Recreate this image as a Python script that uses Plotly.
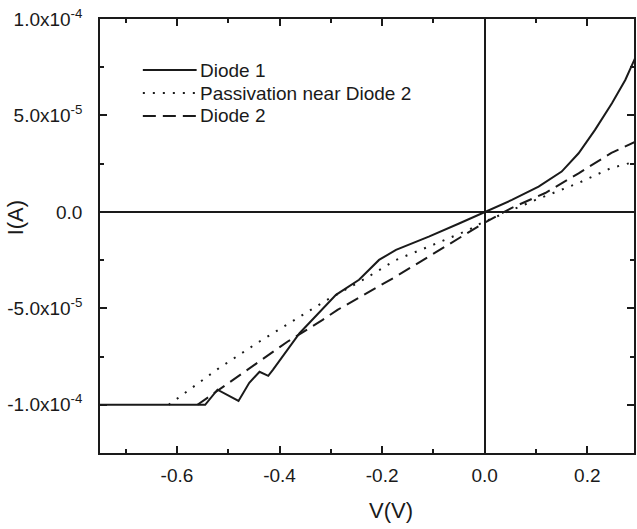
import plotly.graph_objects as go

# ---- data (V in volts, I in units of 1e-5 A) ----
v_diode1 = [-0.75, -0.545, -0.521, -0.48, -0.459, -0.439, -0.422, -0.413, -0.361, -0.323,
            -0.29, -0.245, -0.206, -0.173, -0.109, -0.05, 0.0, 0.053, 0.105, 0.15,
            0.183, 0.215, 0.248, 0.274, 0.293]
i_diode1 = [-10.0, -10.0, -9.22, -9.8, -8.86, -8.29, -8.5, -8.19, -6.29, -5.2,
            -4.3, -3.52, -2.49, -1.97, -1.28, -0.6, 0.0, 0.62, 1.31, 2.09,
            3.04, 4.25, 5.63, 6.84, 7.96]

v_passiv = [-0.616, -0.517, -0.439, -0.355, -0.313, -0.232, -0.173, -0.109, -0.031, -0.006,
            0.099, 0.183, 0.247, 0.293]
i_passiv = [-10.0, -8.08, -6.72, -5.34, -4.65, -3.44, -2.49, -1.8, -0.93, -0.57,
            0.62, 1.5, 2.28, 2.6]

v_diode2 = [-0.56, -0.452, -0.384, -0.316, -0.287, -0.173, -0.109, -0.045, 0.0, 0.052,
            0.118, 0.183, 0.247, 0.293]
i_diode2 = [-10.0, -8.01, -6.72, -5.6, -5.08, -3.35, -2.3, -1.28, -0.55, 0.2,
            0.98, 2.0, 3.06, 3.63]

scale = 1e-5

series_names = ["Diode 1", "Passivation near Diode 2", "Diode 2"]

x_major = [-0.6, -0.4, -0.2, 0.0, 0.2]
x_major_text = ["-0.6", "-0.4", "-0.2", "0.0", "0.2"]
x_minor = [-0.7, -0.5, -0.3, -0.1, 0.1]

y_major = [-1e-4, -5e-5, 0.0, 5e-5, 1e-4]
y_major_text = ["-1.0x10<sup>-4</sup>", "-5.0x10<sup>-5</sup>", "0.0",
                "5.0x10<sup>-5</sup>", "1.0x10<sup>-4</sup>"]
y_minor = [-1.25e-4, -7.5e-5, -2.5e-5, 2.5e-5, 7.5e-5]

# ---- styling ----
INK = "#1a1a1a"
FONT = "Liberation Sans, Arial, sans-serif"
dashes = ["solid", "2px,8px", "13px,7px"]
data = [(v_diode1, i_diode1), (v_passiv, i_passiv), (v_diode2, i_diode2)]

W, H = 637, 529
ML, MR, MT, MB = 100, 1, 19, 76
PW, PH = W - ML - MR, H - MT - MB


def px_to_paper(px, py):
    return (px - ML) / PW, 1 - (py - MT) / PH


fig = go.Figure()
for name, (v, i), dash in zip(series_names, data, dashes):
    fig.add_trace(go.Scatter(
        x=v, y=[val * scale for val in i], mode="lines", name=name,
        line=dict(color=INK, width=2, dash=dash), showlegend=False,
    ))

# ---- legend drawn as layout shapes + annotations (long line samples, tight rows) ----
shapes, annotations = [], []
legend_rows_px = [70, 93, 116]
for name, dash, row in zip(series_names, dashes, legend_rows_px):
    x0, y0 = px_to_paper(143, row)
    x1, _ = px_to_paper(197, row)
    xt, _ = px_to_paper(198, row)
    shapes.append(dict(type="line", xref="paper", yref="paper", x0=x0, x1=x1, y0=y0, y1=y0,
                       line=dict(color=INK, width=2, dash=dash)))
    annotations.append(dict(text=name, xref="paper", yref="paper", x=xt, y=y0,
                            xanchor="left", yanchor="middle", showarrow=False,
                            font=dict(size=19, family=FONT, color=INK)))

xt, yt = px_to_paper(392, 510)
annotations.append(dict(text="V(V)", xref="paper", yref="paper", x=xt, y=yt,
                        xanchor="center", yanchor="middle", showarrow=False,
                        font=dict(size=22, family=FONT, color=INK)))
xt, yt = px_to_paper(15, 218)
annotations.append(dict(text="I(A)", xref="paper", yref="paper", x=xt, y=yt,
                        xanchor="center", yanchor="middle", showarrow=False, textangle=-90,
                        font=dict(size=22, family=FONT, color=INK)))

axis_common = dict(
    showline=True, linecolor=INK, linewidth=1.5, mirror="ticks",
    ticks="inside", ticklen=7, tickwidth=1.5, tickcolor=INK,
    showgrid=False, zeroline=True, zerolinecolor=INK, zerolinewidth=1.5,
    tickfont=dict(family=FONT, size=19, color=INK),
)
minor_common = dict(ticks="inside", ticklen=4, tickwidth=1.5, tickcolor=INK)

fig.update_layout(
    width=W, height=H,
    margin=dict(l=ML, r=MR, t=MT, b=MB),
    paper_bgcolor="white", plot_bgcolor="white",
    font=dict(family=FONT, color=INK),
    showlegend=False,
    xaxis=dict(
        range=[-0.75, 0.291], tickmode="array", tickvals=x_major, ticktext=x_major_text,
        minor=dict(tickmode="array", tickvals=x_minor, **minor_common),
        ticklabelstandoff=4,
        **axis_common,
    ),
    yaxis=dict(
        range=[-1.25e-4, 1.0e-4], tickmode="array", tickvals=y_major, ticktext=y_major_text,
        minor=dict(tickmode="array", tickvals=y_minor, **minor_common),
        ticklabelstandoff=12,
        **axis_common,
    ),
    shapes=shapes,
    annotations=annotations,
)

fig.write_html("out.html")
